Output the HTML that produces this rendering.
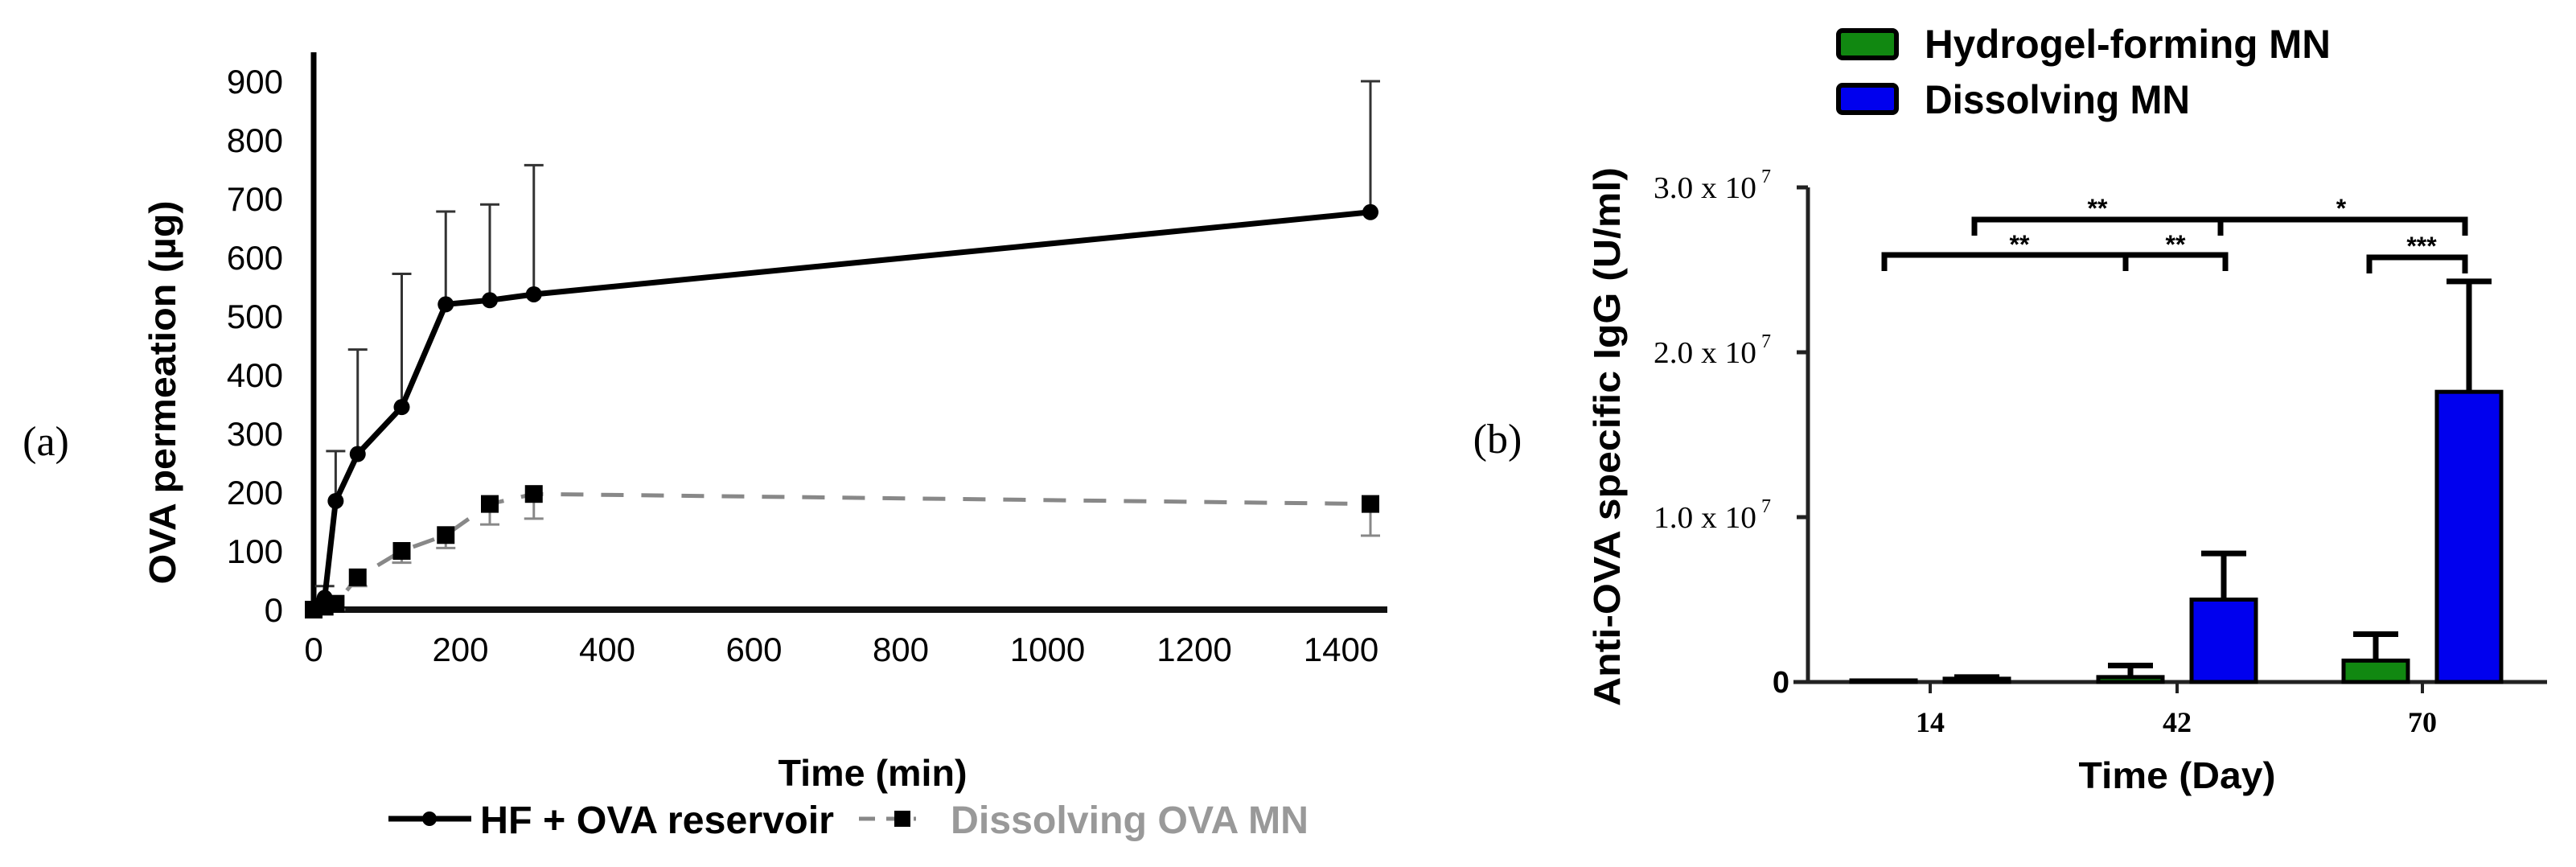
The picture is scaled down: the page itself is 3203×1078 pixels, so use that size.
<!DOCTYPE html>
<html><head><meta charset="utf-8"><style>
html,body{margin:0;padding:0;background:#fff;}
svg{display:block;}
text{font-family:"Liberation Sans",Arial,sans-serif;}
.serif{font-family:"Liberation Serif","Times New Roman",serif;}
</style></head><body>
<svg id="fig" width="3203" height="1078" viewBox="0 0 3203 1078" xmlns="http://www.w3.org/2000/svg">
<text class="serif" x="57" y="566" font-size="52" text-anchor="middle">(a)</text>
<text class="serif" x="1862" y="563" font-size="52" text-anchor="middle">(b)</text>
<g id="chartA"></g>
<g id="chartB"></g>
</svg>
<script>
// ---------- Chart A data ----------
const timesA = [0, 15, 30, 60, 120, 180, 240, 300, 1440];
const hfValues = [0, 20, 185, 265, 345, 520, 527, 537, 677];
const hfErrUpper = [0, 40, 270, 443, 572, 678, 690, 757, 900];
const dissTimes = [0, 15, 30, 60, 120, 180, 240, 300, 1440];
const dissValues = [0, 5, 10, 55, 100, 127, 180, 197, 180];
const dissErrLower = [0, 0, 0, 40, 80, 105, 145, 155, 126];
const yTicksA = [0, 100, 200, 300, 400, 500, 600, 700, 800, 900];
const xTicksA = [0, 200, 400, 600, 800, 1000, 1200, 1400];

// ---------- Chart B data ----------
const daysB = ["14", "42", "70"];
const hydrogelValues = [0.0, 0.03, 0.13];
const hydrogelErr = [0.0, 0.10, 0.29];
const dissolvingValues = [0.02, 0.50, 1.76];
const dissolvingErr = [0.03, 0.78, 2.43];
const yTicksB = [0, 1, 2, 3];
const yTickLabelsB = ["0", "1.0 x 10", "2.0 x 10", "3.0 x 10"];

const NS = "http://www.w3.org/2000/svg";
function mk(parent, tag, attrs, txt) {
  const e = document.createElementNS(NS, tag);
  for (const k in attrs) e.setAttribute(k, attrs[k]);
  if (txt !== undefined) e.textContent = txt;
  parent.appendChild(e);
  return e;
}

// ---------- Chart A ----------
(function () {
  const g = document.getElementById('chartA');
  const x0 = 390, pxPerMin = 0.9125, y0 = 758, pxPerUnit = 0.73;
  const X = t => x0 + t * pxPerMin;
  const Y = v => y0 - v * pxPerUnit;

  let e;
  e = mk(g, 'line', {x1: 390, y1: 65, x2: 390, y2: y0 + 3, stroke: '#000', 'stroke-width': 7});
  
  
  e = mk(g, 'line', {x1: 387, y1: y0, x2: 1725, y2: y0, stroke: '#111', 'stroke-width': 8});
  
  

  yTicksA.forEach(v => {
    const t = mk(g, 'text', {x: 352, y: Y(v) + 15, 'font-size': 42, 'text-anchor': 'end'}, String(v));
    
    
  });
  xTicksA.forEach(v => {
    const t = mk(g, 'text', {x: X(v), y: 822, 'font-size': 42, 'text-anchor': 'middle'}, String(v));
    
    
  });

  e = mk(g, 'text', {x: 0, y: 0, 'font-size': 46, 'font-weight': 'bold', 'text-anchor': 'middle', transform: 'translate(218,488) rotate(-90)', textLength: 477, lengthAdjust: 'spacingAndGlyphs'}, 'OVA permeation (µg)');
  
  
  e = mk(g, 'text', {x: 1085, y: 977, 'font-size': 46, 'font-weight': 'bold', 'text-anchor': 'middle', textLength: 235, lengthAdjust: 'spacingAndGlyphs'}, 'Time (min)');
  
  

  dissTimes.forEach((t, i) => {
    if (dissErrLower[i] === dissValues[i]) return;
    const b = mk(g, 'path', {d: `M${X(t)},${Y(dissValues[i])} V${Y(dissErrLower[i])} M${X(t) - 12},${Y(dissErrLower[i])} H${X(t) + 12}`, stroke: '#888', 'stroke-width': 3, fill: 'none'});
    
    
  });
  e = mk(g, 'polyline', {points: dissTimes.map((t, i) => X(t) + ',' + Y(dissValues[i])).join(' '), fill: 'none', stroke: '#888', 'stroke-width': 5, 'stroke-dasharray': '28 22'});
  
  
  dissTimes.forEach((t, i) => {
    const s = mk(g, 'rect', {x: X(t) - 11, y: Y(dissValues[i]) - 11, width: 22, height: 22, fill: '#000'});
    
    
  });

  timesA.forEach((t, i) => {
    if (hfErrUpper[i] <= hfValues[i]) return;
    const b = mk(g, 'path', {d: `M${X(t)},${Y(hfValues[i])} V${Y(hfErrUpper[i])} M${X(t) - 12},${Y(hfErrUpper[i])} H${X(t) + 12}`, stroke: '#333', 'stroke-width': 3, fill: 'none'});
    
    
  });
  e = mk(g, 'polyline', {points: timesA.map((t, i) => X(t) + ',' + Y(hfValues[i])).join(' '), fill: 'none', stroke: '#000', 'stroke-width': 7});
  
  
  timesA.forEach((t, i) => {
    const c = mk(g, 'circle', {cx: X(t), cy: Y(hfValues[i]), r: 10, fill: '#000'});
    
    
  });

  const lg = mk(g, 'g', {});
  
  
  e = mk(lg, 'line', {x1: 483, y1: 1018, x2: 586, y2: 1018, stroke: '#000', 'stroke-width': 7});
  
  
  e = mk(lg, 'circle', {cx: 534, cy: 1018, r: 9, fill: '#000'});
  
  
  e = mk(lg, 'text', {x: 597, y: 1036, 'font-size': 48, 'font-weight': 'bold', textLength: 440, lengthAdjust: 'spacingAndGlyphs'}, 'HF + OVA reservoir');
  
  
  e = mk(lg, 'line', {x1: 1068, y1: 1018, x2: 1139, y2: 1018, stroke: '#888', 'stroke-width': 5, 'stroke-dasharray': '20 14'});
  
  
  e = mk(lg, 'rect', {x: 1112, y: 1008, width: 20, height: 20, fill: '#000'});
  
  
  e = mk(lg, 'text', {x: 1182, y: 1036, 'font-size': 48, 'font-weight': 'bold', fill: '#999', textLength: 445, lengthAdjust: 'spacingAndGlyphs'}, 'Dissolving OVA MN');
  
  
})();

// ---------- Chart B ----------
(function () {
  const g = document.getElementById('chartB');
  const xAxis = 2248, y0 = 848, pxPerUnit = 205;
  const catX = [2400, 2707, 3012];
  const Y = v => y0 - v * pxPerUnit;
  const barW = 80, off = 58;
  let e;

  e = mk(g, 'line', {x1: xAxis, y1: Y(3), x2: xAxis, y2: y0, stroke: '#222', 'stroke-width': 5});
  
  
  e = mk(g, 'line', {x1: 2230, y1: y0, x2: 3167, y2: y0, stroke: '#222', 'stroke-width': 5});
  
  

  yTicksB.forEach((v, i) => {
    const tk = mk(g, 'line', {x1: xAxis - 14, y1: Y(v), x2: xAxis, y2: Y(v), stroke: '#222', 'stroke-width': 5});
    
    
    if (v === 0) {
      const t = mk(g, 'text', {x: 2225, y: Y(v) + 13, 'font-size': 38, 'font-weight': 'bold', 'text-anchor': 'end'}, '0');
      
      
    } else {
      const t = mk(g, 'text', {x: 2056, y: Y(v) + 13, 'font-size': 38, 'class': 'serif', textLength: 128, lengthAdjust: 'spacingAndGlyphs'}, yTickLabelsB[i]);
      
      
      const s = mk(g, 'text', {x: 2190, y: Y(v) - 6, 'font-size': 24, 'class': 'serif'}, '7');
      
      
    }
  });

  daysB.forEach((d, i) => {
    const tk = mk(g, 'line', {x1: catX[i], y1: y0, x2: catX[i], y2: y0 + 14, stroke: '#222', 'stroke-width': 4});
    
    
    const t = mk(g, 'text', {x: catX[i], y: 910, 'font-size': 36, 'font-weight': 'bold', 'class': 'serif', 'text-anchor': 'middle'}, d);
    
    
  });

  function drawBar(cx, v, err, fill, name) {
    if (err > v) {
      const b = mk(g, 'path', {d: `M${cx},${Y(v)} V${Y(err)} M${cx - 28},${Y(err)} H${cx + 28}`, stroke: '#000', 'stroke-width': 7, fill: 'none'});
      
      
    }
    const h = Math.max(v * pxPerUnit, 2);
    const r = mk(g, 'rect', {x: cx - barW / 2, y: y0 - h, width: barW, height: h, fill: fill, stroke: '#000', 'stroke-width': 5});
    
    
  }
  daysB.forEach((d, i) => {
    drawBar(catX[i] - off, hydrogelValues[i], hydrogelErr[i], '#118811', 'hydrogel');
    drawBar(catX[i] + off, dissolvingValues[i], dissolvingErr[i], '#0000ee', 'dissolving');
  });

  const brackets = [
    {d: 'M2343,337 V317 H2767 V337 M2643,317 V337', star: '**', sx: 2511, sy: 303},
    {d: 'M2647,317 H2767', star: '**', sx: 2705, sy: 303},
    {d: 'M2455,293 V273 H3065 V293 M2761,273 V293', star: '**', sx: 2608, sy: 258},
    {d: 'M2761,273 H3065', star: '*', sx: 2911, sy: 258},
    {d: 'M2946,340 V320 H3065 V340', star: '***', sx: 3011, sy: 305}
  ];
  brackets.forEach(b => {
    const p = mk(g, 'path', {d: b.d, stroke: '#000', 'stroke-width': 7, fill: 'none'});
    
    
    const t = mk(g, 'text', {x: b.sx, y: b.sy + 12, 'font-size': 32, 'font-weight': 'bold', 'text-anchor': 'middle'}, b.star);
    
    
  });

  e = mk(g, 'text', {x: 0, y: 0, 'font-size': 46, 'font-weight': 'bold', 'text-anchor': 'middle', transform: 'translate(2014,543) rotate(-90)', textLength: 670, lengthAdjust: 'spacingAndGlyphs'}, 'Anti-OVA specific IgG (U/ml)');
  
  
  e = mk(g, 'text', {x: 2707, y: 980, 'font-size': 46, 'font-weight': 'bold', 'text-anchor': 'middle', textLength: 245, lengthAdjust: 'spacingAndGlyphs'}, 'Time (Day)');
  
  

  const lg = mk(g, 'g', {});
  
  
  e = mk(lg, 'rect', {x: 2286, y: 38, width: 72, height: 34, rx: 5, fill: '#118811', stroke: '#000', 'stroke-width': 6});
  
  
  e = mk(lg, 'text', {x: 2393, y: 72, 'font-size': 50, 'font-weight': 'bold', textLength: 505, lengthAdjust: 'spacingAndGlyphs'}, 'Hydrogel-forming MN');
  
  
  e = mk(lg, 'rect', {x: 2286, y: 106, width: 72, height: 34, rx: 5, fill: '#0000ee', stroke: '#000', 'stroke-width': 6});
  
  
  e = mk(lg, 'text', {x: 2393, y: 141, 'font-size': 50, 'font-weight': 'bold', textLength: 330, lengthAdjust: 'spacingAndGlyphs'}, 'Dissolving MN');
  
  
})();
</script>
</body></html>
